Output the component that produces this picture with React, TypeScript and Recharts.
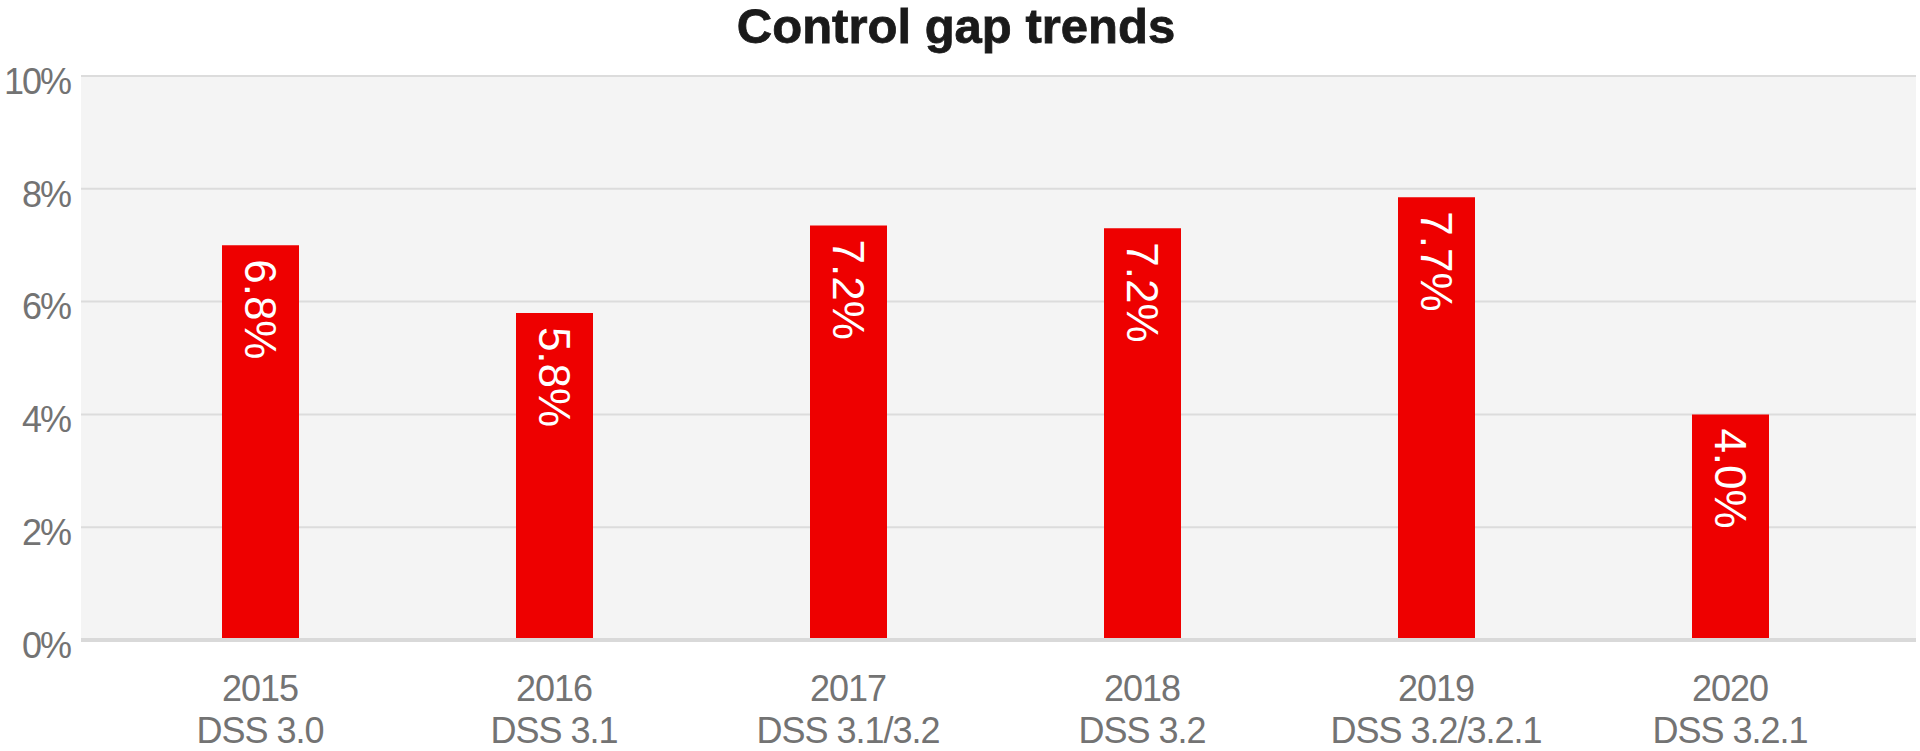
import { BarChart, Bar, XAxis, YAxis, CartesianGrid, LabelList } from "recharts";

const years = ["2015", "2016", "2017", "2018", "2019", "2020"];
const versions = ["DSS 3.0", "DSS 3.1", "DSS 3.1/3.2", "DSS 3.2", "DSS 3.2/3.2.1", "DSS 3.2.1"];
const gapValues = [7.0, 5.8, 7.35, 7.3, 7.85, 4.0];
const gapLabels = ["6.8%", "5.8%", "7.2%", "7.2%", "7.7%", "4.0%"];
const yTicks = [0, 2, 4, 6, 8, 10];

const data = years.map((year, i) => ({
  year,
  version: versions[i],
  gap: gapValues[i],
  label: gapLabels[i],
}));

const FONT = '"Liberation Sans", Arial, sans-serif';
const GREY = "#737373";

function YearTick({ x, y, payload }: any) {
  const i = years.indexOf(payload.value);
  return (
    <text textAnchor="middle" fill={GREY} fontSize={36} fontFamily={FONT} letterSpacing={-1}>
      <tspan x={x} y={y + 61}>{payload.value}</tspan>
      <tspan x={x} y={y + 103}>{versions[i]}</tspan>
    </text>
  );
}

function PercentTick({ x, y, payload }: any) {
  return (
    <text x={x} y={y + 5} dy="0.355em" textAnchor="end" fill={GREY} fontSize={36} fontFamily={FONT} letterSpacing={-2}>
      {payload.value}%
    </text>
  );
}

function BarText({ x, y, width, value }: any) {
  const cx = x + width / 2;
  return (
    <text
      transform={`translate(${cx},${y + 14}) rotate(90)`}
      dy="0.36em"
      textAnchor="start"
      fill="#ffffff"
      fontSize={44}
      fontFamily={FONT}
    >
      {value}
    </text>
  );
}

export default function App() {
  return (
    <div style={{ position: "absolute", left: 0, top: 0, width: 1920, height: 751, background: "#fff" }}>
      <div
        style={{
          position: "absolute",
          top: 2,
          left: 0,
          width: 1912,
          textAlign: "center",
          fontFamily: FONT,
          fontWeight: 700,
          fontSize: 49,
          lineHeight: "49px",
          color: "#1a1a1a",
          WebkitTextStroke: "0.8px #1a1a1a",
        }}
      >
        Control gap trends
      </div>
      <BarChart width={1920} height={751} data={data} margin={{ top: 76, right: 4, bottom: 0, left: 0 }}>
        <CartesianGrid vertical={false} fill="#f4f4f4" stroke="#dcdcdc" strokeWidth={2} />
        <XAxis
          dataKey="year"
          height={111}
          interval={0}
          tickLine={false}
          tickSize={0}
          tickMargin={0}
          axisLine={{ stroke: "#d9d9d9", strokeWidth: 4 }}
          padding={{ left: 32, right: 39 }}
          tick={<YearTick />}
        />
        <YAxis
          width={81}
          domain={[0, 10]}
          ticks={yTicks}
          axisLine={false}
          tickLine={false}
          tickSize={0}
          tickMargin={11}
          tick={<PercentTick />}
        />
        <Bar dataKey="gap" fill="#ee0000" barSize={77} isAnimationActive={false}>
          <LabelList dataKey="label" content={<BarText />} />
        </Bar>
      </BarChart>
    </div>
  );
}
